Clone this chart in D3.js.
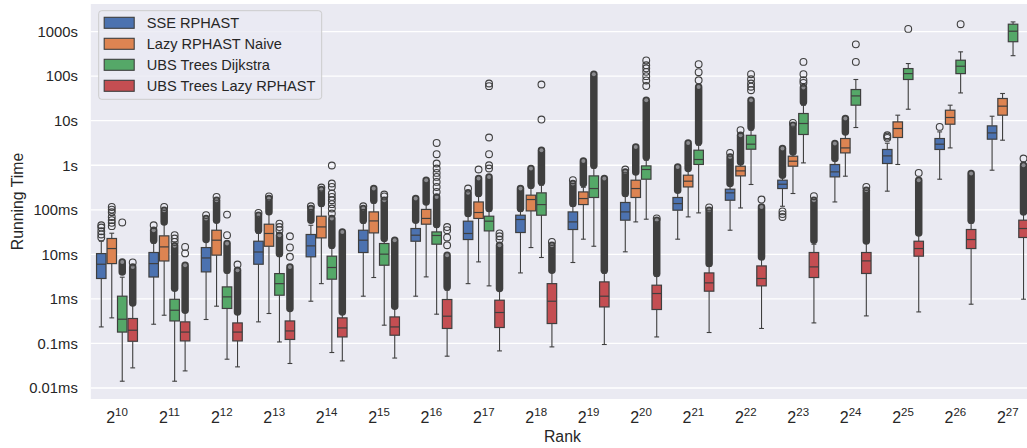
<!DOCTYPE html>
<html>
<head>
<meta charset="utf-8">
<script src="https://cdn.jsdelivr.net/npm/d3@7"></script>
<style>
  body { margin: 0; background: #fff; }
  svg { display: block; font-family: "Liberation Sans", Arial, sans-serif; }
</style>
</head>
<body>
<script>
//rank exponents on the x axis (2^10 ... 2^27)
var rankExps = [10, 11, 12, 13, 14, 15, 16, 17, 18, 19, 20, 21, 22, 23, 24, 25, 26, 27];

//series (hue) names and colours
var seriesNames = ["SSE RPHAST", "Lazy RPHAST Naive", "UBS Trees Dijkstra", "UBS Trees Lazy RPHAST"];
var seriesColors = ["#4c72b0", "#dd8452", "#55a868", "#c44e52"];

//y ticks, values in ms
var yTickValues = [0.01, 0.1, 1, 10, 100, 1000, 10000, 100000, 1000000];
var yTickLabels = ["0.01ms", "0.1ms", "1ms", "10ms", "100ms", "1s", "10s", "100s", "1000s"];

//box stats per rank: [low whisker, q1, median, q3, high whisker] in ms
var sseStats = [
    [0.235, 2.87, 6.0, 10.4, 19.7], [0.27, 3.1, 6.2, 11.0, 17.8], [0.345, 4.04, 8.3, 14.2, 19.7],
    [0.305, 6.0, 11.3, 19.7, 29.8], [0.887, 8.8, 15.5, 27.9, 45], [1.15, 11, 20.8, 34.8, 50],
    [1.15, 19.7, 26.9, 38, 52.6], [2.2, 21.5, 29.4, 55.5, 71.8], [3.83, 30.9, 60.6, 75.6, 93],
    [6.56, 36.1, 53.5, 89.7, 120], [11.4, 58.5, 89.7, 146, 202], [21.9, 98, 138, 189, 248],
    [34.8, 164, 240, 290, 357], [120, 300, 375, 462, 540], [150, 548, 710, 1040, 1298],
    [262, 1094, 1622, 2260, 3125], [486, 2260, 2970, 3980, 5610], [774, 3845, 5320, 7660, 12600]
];
var naiveStats = [
    [0.375, 6.2, 13.5, 22.7, 29.8], [0.43, 7.1, 14.7, 26, 47.5], [0.686, 9.6, 20.8, 34.8, 52.6],
    [0.47, 15.2, 29.4, 47.5, 80], [2.2, 23.4, 41.3, 71.8, 120], [3.02, 30.3, 56.3, 89.7, 141],
    [3.12, 47.5, 64, 102, 141], [6.77, 64, 87, 150, 202], [14.2, 94.5, 170, 213, 305],
    [21.9, 131, 179, 252, 321], [53.5, 189, 300, 462, 630], [69.3, 326, 439, 598, 774],
    [110, 577, 747, 952, 1112], [232, 952, 1233, 1596, 1867], [568, 1893, 2450, 3980, 5240],
    [1040, 4200, 6680, 9400, 13300], [2450, 8340, 11800, 17200, 22300], [3650, 13300, 21200, 31500, 40800]
];
var dijkstraStats = [
    [0.0142, 0.18, 0.35, 1.15, 3.07], [0.0142, 0.32, 0.557, 0.98, 1.57], [0.0443, 0.61, 1.11, 1.86, 3.8],
    [0.108, 1.21, 2.2, 3.7, 9.1], [0.0626, 2.77, 5.07, 9.1, 13.7], [0.257, 5.7, 10.1, 17.5, 20.8],
    [0.454, 16.9, 26.5, 31.9, 40.7], [1.96, 33.6, 55.5, 71.8, 93], [8.5, 75.6, 131, 240, 357],
    [15.2, 189, 300, 577, 859], [61.5, 486, 803, 967, 1298], [85.2, 1040, 1346, 2177, 2820],
    [370, 2290, 2970, 4700, 6120], [1130, 4900, 8650, 14500, 22300], [7030, 22300, 36000, 50100, 84100],
    [18100, 84100, 114000, 148000, 192000], [42000, 114000, 167000, 228000, 351000], [288000, 593000, 1021000, 1466000, 1650000]
];
var lazyStats = [
    [0.0283, 0.112, 0.198, 0.363, 0.72], [0.0242, 0.114, 0.18, 0.305, 0.51], [0.0298, 0.114, 0.18, 0.289, 0.47],
    [0.0355, 0.123, 0.191, 0.32, 0.557], [0.0406, 0.14, 0.223, 0.375, 0.47], [0.047, 0.153, 0.235, 0.394, 0.62],
    [0.0518, 0.217, 0.409, 0.97, 1.57], [0.068, 0.228, 0.495, 0.935, 1.57], [0.0837, 0.28, 0.887, 2.2, 3.98],
    [0.0947, 0.66, 1.15, 2.41, 3.78], [0.14, 0.578, 1.32, 2.03, 3.23], [0.176, 1.49, 2.29, 3.83, 5.42],
    [0.217, 1.96, 2.87, 5.5, 7.78], [0.289, 3.02, 5.23, 11, 16.9], [0.415, 3.72, 7.13, 11, 17.8],
    [0.51, 9.1, 13.5, 19.7, 26.9], [0.76, 13.5, 21.5, 36.1, 50], [0.985, 23.9, 38, 58.5, 84]
];

//runs of outliers so dense that the circles merge into a column: [from, to] in ms
var sseDense = [null, [20.8, 34.8], [21.5, 64], [34.8, 75.6], [58.5, 107], [58.5, 107], [58.5, 179], [82.6, 240],
    [107, 300], [138, 389], [232, 710], [275, 918], [389, 1540], [598, 2380], [1417, 3075], null, null, null];
var naiveDense = [null, [53, 98], [58, 164], [90, 179], [138, 286], [164, 301], [150, 462], [232, 504],
    [357, 845], [389, 1253], [710, 2580], [845, 3175], [1190, 4700], [1995, 7925], [5610, 11200], null, null, null];
var dijkstraDense = [[4.0, 6.7], [1.74, 15.5], [4.4, 17.5], [10.4, 26.9], [16, 64], [22.7, 164], [46.8, 195], [107, 548],
    [423, 2180], [1000, 110700], [1540, 28900], [3340, 57400], [7260, 28900], [26400, 55600], null, null, null, null];
var lazyDense = [[0.81, 5.2], [0.557, 5.7], [0.51, 4.4], [0.61, 5.2], [0.51, 31.9], [0.686, 20.8], [1.86, 9.6], [1.71, 16],
    [4.4, 16], [4.4, 504], [3.72, 58.5], [6.24, 98], [8.77, 116], [20.8, 164], [20, 275], [30.3, 462], [58.5, 653], [89.7, 1000]];

//single outliers in ms
var sseFliers = [[24, 28, 33, 40, 45], [45], [76], [85], [120], [120], [], [300], [], [462], [803], [], [1893],
    [69, 80, 92], [], [4110, 4400, 4720], [7260], []];
var naiveFliers = [[43, 51, 58.5, 69, 88, 101, 116], [116], [195], [200], [316], [], [], [803], [], [], [], [], [6120],
    [8930], [], [], [], []];
var dijkstraFliers = [[52], [19, 22.7, 27], [27, 78], [34.8, 41, 49], [82.6, 107, 134, 164, 195, 232, 326, 389, 986],
    [200, 220], [252, 326, 423, 548, 673, 845, 1096, 1770, 3170], [845, 1000, 1770, 4200, 59600, 68400],
    [10600, 64900], [], [60000, 80000, 100000, 125000, 150000, 175000, 225000], [80700, 123000, 186000],
    [48400, 58000, 68400, 85000, 110700], [70800, 81300, 110700, 209000], [209000, 518000], [1150000], [1466000], []];
var lazyFliers = [[6.6], [10.5, 14.7], [5.9], [8.8, 14.3, 25.5], [], [], [16, 24, 34.8, 41], [21.5, 25.5, 29.5], [19],
    [], [64], [113], [170], [202], [326], [673], [], [1417]];

var allStats = [sseStats, naiveStats, dijkstraStats, lazyStats];
var allDense = [sseDense, naiveDense, dijkstraDense, lazyDense];
var allFliers = [sseFliers, naiveFliers, dijkstraFliers, lazyFliers];

//figure layout
var width = 1027, height = 448;
var plotLeft = 90.8, plotRight = 1034, plotTop = 4, plotBottom = 399;
var lineColor = "#3f3f3f", textColor = "#262626";

var svg = d3.select("body").append("svg")
    .attr("width", width)
    .attr("height", height);

//scales
var x = d3.scaleBand().domain(rankExps).range([plotLeft, plotRight]);
var xHue = d3.scaleBand().domain(seriesNames).range([x.bandwidth() * 0.1, x.bandwidth() * 0.9]);
var y = d3.scaleLog().domain([0.01, 1000000]).range([388, 31.6]);

//plot background + grid
svg.append("rect")
    .attr("x", plotLeft).attr("y", plotTop)
    .attr("width", plotRight - plotLeft).attr("height", plotBottom - plotTop)
    .attr("fill", "#eaeaf2");

svg.append("g").selectAll("line")
    .data(yTickValues)
    .enter().append("line")
    .attr("x1", plotLeft).attr("x2", plotRight)
    .attr("y1", function (d) { return y(d); })
    .attr("y2", function (d) { return y(d); })
    .attr("stroke", "#fff")
    .attr("stroke-width", 1.3);

//axes
var yAxis = svg.append("g")
    .attr("transform", "translate(" + plotLeft + ",0)")
    .call(d3.axisLeft(y).tickValues(yTickValues)
        .tickFormat(function (d, i) { return yTickLabels[i]; })
        .tickSize(0).tickPadding(13));
yAxis.select(".domain").remove();
yAxis.selectAll("text").attr("font-size", 14.8).attr("fill", textColor)
    .attr("font-family", "Liberation Sans, Arial, sans-serif");

var xAxis = svg.append("g")
    .attr("transform", "translate(0," + plotBottom + ")")
    .call(d3.axisBottom(x).tickSize(0).tickFormat(function () { return ""; }));
xAxis.select(".domain").remove();
xAxis.selectAll("text")
    .attr("y", 23.8).attr("dy", 0)
    .attr("fill", textColor)
    .attr("font-family", "Liberation Sans, Arial, sans-serif")
    .each(function (d) {
        var t = d3.select(this);
        t.append("tspan").attr("font-size", 16).text("2");
        t.append("tspan").attr("font-size", 11.5).attr("dy", -6.5).text(d);
    });

//axis titles
svg.append("text")
    .attr("x", (plotLeft + plotRight) / 2).attr("y", 442)
    .attr("text-anchor", "middle").attr("font-size", 15.8).attr("fill", textColor)
    .text("Rank");
svg.append("text")
    .attr("transform", "translate(23," + (plotTop + plotBottom) / 2 + ") rotate(-90)")
    .attr("text-anchor", "middle").attr("font-size", 15.8).attr("fill", textColor)
    .text("Running Time");

//boxes
var boxW = xHue.bandwidth();
var plot = svg.append("g");

seriesNames.forEach(function (name, s) {
    rankExps.forEach(function (r, i) {
        var st = allStats[s][i];
        var cx = x(r) + xHue(name) + boxW / 2;
        var g = plot.append("g");

        //whiskers
        g.append("line").attr("x1", cx).attr("x2", cx)
            .attr("y1", y(st[0])).attr("y2", y(st[1]))
            .attr("stroke", lineColor).attr("stroke-width", 1.1);
        g.append("line").attr("x1", cx).attr("x2", cx)
            .attr("y1", y(st[3])).attr("y2", y(st[4]))
            .attr("stroke", lineColor).attr("stroke-width", 1.1);
        //caps
        [st[0], st[4]].forEach(function (v) {
            g.append("line").attr("x1", cx - boxW * 0.23).attr("x2", cx + boxW * 0.23)
                .attr("y1", y(v)).attr("y2", y(v))
                .attr("stroke", lineColor).attr("stroke-width", 1.1);
        });
        //box
        g.append("rect")
            .attr("x", cx - boxW / 2 + 0.5).attr("width", boxW - 1)
            .attr("y", y(st[3])).attr("height", y(st[1]) - y(st[3]))
            .attr("fill", seriesColors[s])
            .attr("stroke", lineColor).attr("stroke-width", 1.2);
        //median
        g.append("line").attr("x1", cx - boxW / 2 + 0.5).attr("x2", cx + boxW / 2 - 0.5)
            .attr("y1", y(st[2])).attr("y2", y(st[2]))
            .attr("stroke", lineColor).attr("stroke-width", 1.2);

        //dense outlier column, open ring at its top end
        var dn = allDense[s][i];
        if (dn) {
            g.append("line").attr("x1", cx).attr("x2", cx)
                .attr("y1", y(dn[0])).attr("y2", y(dn[1]))
                .attr("stroke", lineColor).attr("stroke-width", 7.5)
                .attr("stroke-linecap", "round");
            g.append("circle")
                .attr("cx", cx).attr("cy", y(dn[1]))
                .attr("r", 2).attr("fill", "#8a8a8e");
        }
        //single outliers
        g.selectAll("circle.flier")
            .data(allFliers[s][i])
            .enter().append("circle")
            .attr("class", "flier")
            .attr("cx", cx).attr("cy", function (d) { return y(d); })
            .attr("r", 3.4)
            .attr("fill", "none")
            .attr("stroke", lineColor).attr("stroke-width", 1.1);
    });
});

//legend
var legend = svg.append("g").attr("transform", "translate(98.7,10.7)");
legend.append("rect")
    .attr("width", 223).attr("height", 88.6).attr("rx", 3)
    .attr("fill", "#eaeaf2").attr("fill-opacity", 0.8)
    .attr("stroke", "#cccccc").attr("stroke-width", 1);
var items = legend.selectAll("g.item")
    .data(seriesNames)
    .enter().append("g")
    .attr("class", "item")
    .attr("transform", function (d, i) { return "translate(0," + (12.1 + i * 21) + ")"; });
items.append("rect")
    .attr("x", 5.5).attr("y", -5.5).attr("width", 30).attr("height", 11)
    .attr("fill", function (d, i) { return seriesColors[i]; })
    .attr("stroke", lineColor).attr("stroke-width", 1.1);
items.append("text")
    .attr("x", 48).attr("y", 5.2)
    .attr("font-size", 14.6).attr("fill", textColor)
    .text(function (d) { return d; });
</script>
</body>
</html>
